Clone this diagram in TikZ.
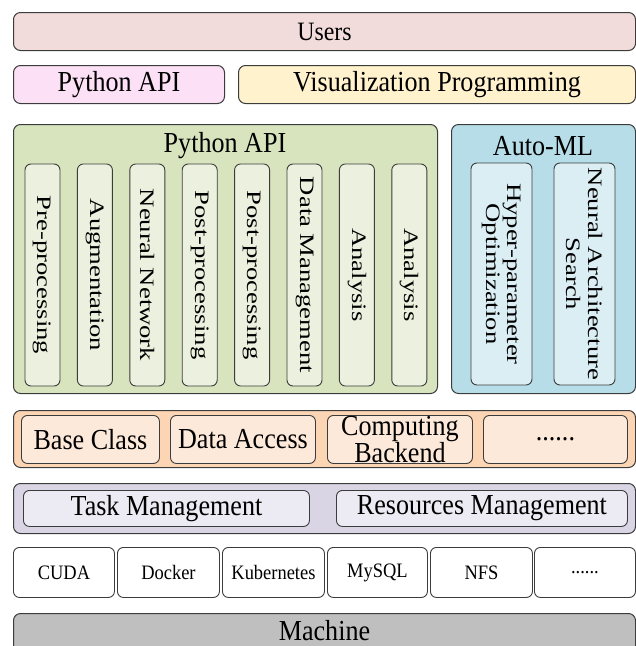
\documentclass[tikz,border=0pt]{standalone}
\usepackage{fontspec}
\setmainfont[FakeStretch=0.9]{Liberation Serif}
\newfontfamily\rotfont[FakeStretch=1.3]{Liberation Serif}
\usetikzlibrary{positioning}

\definecolor{edge}{HTML}{3C3C3C}
\definecolor{usersfill}{HTML}{F2DCDB}
\definecolor{apifill}{HTML}{FCE0F6}
\definecolor{visfill}{HTML}{FFF2CC}
\definecolor{pyfill}{HTML}{D7E4BD}
\definecolor{pypart}{HTML}{EBF1DE}
\definecolor{autofill}{HTML}{B7DEE8}
\definecolor{autopart}{HTML}{DBEEF4}
\definecolor{basefill}{HTML}{FCD5B5}
\definecolor{basepart}{HTML}{FDE9D9}
\definecolor{taskfill}{HTML}{D9D5E5}
\definecolor{taskpart}{HTML}{ECEAF2}
\definecolor{machinefill}{HTML}{BFBFBF}

\begin{document}
\begin{tikzpicture}[
        x=1pt, y=-1pt,
        font=\fontsize{29}{24}\selectfont,
        % Styles
        layer/.style={% For the outer boxes
            rectangle,
            rounded corners=7pt,
            draw=edge,
            line width=1pt,
            anchor=north west,
            inner sep=0pt,
            },
        part/.style={% For the boxes inside a layer
            rectangle,
            rounded corners=6pt,
            draw=edge,
            line width=0.9pt,
            anchor=north west,
            inner sep=0pt,
            align=center,
            },
        column/.style={% For the upright boxes
            rectangle,
            rounded corners=6pt,
            draw=edge,
            line width=0.9pt,
            rotate=-90,
            inner sep=0pt,
            align=center,
            minimum width=222pt,
            font=\rotfont\fontsize{20.5}{21.5}\selectfont,
            },
        tool/.style={% For the row of tools
            part,
            fill=white,
            font=\fontsize{20.5}{22}\selectfont,
            },
        ]

    \useasboundingbox (0,0) rectangle (636,646);

    % Top layers
        \node [layer, fill=usersfill, minimum width=622, minimum height=38, font=\fontsize{26.5}{24}\selectfont] (users) at (13,12) {Users};
        \node [layer, fill=apifill, minimum width=211, minimum height=38] (api) at (13,65) {Python API};
        \node [layer, fill=visfill, minimum width=397, minimum height=38] (vis) at (238,65) {Visualization Programming};

    % Python API and Auto-ML blocks
        \node [layer, fill=pyfill, minimum width=424, minimum height=269] (python) at (13,124) {};
        \node (pythonlabel) at (225,146) {Python API};
        \foreach \name [count=\i] in {Pre-processing, Augmentation, Neural Network, Post-processing, Post-processing, Data Management, Analysis, Analysis}
            \node [column, fill=pypart, minimum height=35] (col\i) at ({42.5+52.4*(\i-1)},275) {\name};

        \node [layer, fill=autofill, minimum width=184, minimum height=269] (automl) at (451,124) {};
        \node (automllabel) at (543,146) {Auto-ML};
        \node [column, fill=autopart, minimum height=61] (hpo) at (501.5,274) {Hyper-parameter\\Optimization};
        \node [column, fill=autopart, minimum height=61] (nas) at (584.5,274) {Neural Architecture\\Search};

    % Base layer
        \node [layer, fill=basefill, minimum width=622, minimum height=57] (base) at (13,410) {};
        \node [part, fill=basepart, minimum width=138, minimum height=48] (baseclass) at (21,415) {Base Class};
        \node [part, fill=basepart, minimum width=145, minimum height=48] (access) at (170,415) {Data Access};
        \node [part, fill=basepart, minimum width=145, minimum height=48] (backend) at (327,415) {Computing\\Backend};
        \node [part, fill=basepart, minimum width=144, minimum height=48] (moreparts) at (483,415) {......};

    % Management layer
        \node [layer, fill=taskfill, minimum width=622, minimum height=50] (manage) at (13,483) {};
        \node [part, fill=taskpart, minimum width=286, minimum height=36] (task) at (23,490) {Task Management};
        \node [part, fill=taskpart, minimum width=291, minimum height=36] (resources) at (336,490) {Resources Management};

    % Tools
        \foreach \a/\b/\name [count=\i] in {13/114/CUDA, 117/219/Docker, 222/324/Kubernetes, 327/427/MySQL, 430/532/NFS}
            \node [tool, minimum width=\b-\a, minimum height=50] (tool\i) at (\a,547) {\name};
        \node [tool, minimum width=101, minimum height=50] (tool6) at (534,547) {......};

    % Machine (runs past the lower edge)
        \node [layer, fill=machinefill, minimum width=622, minimum height=45, text depth=12pt] (machine) at (13,613) {Machine};

\end{tikzpicture}
\end{document}
